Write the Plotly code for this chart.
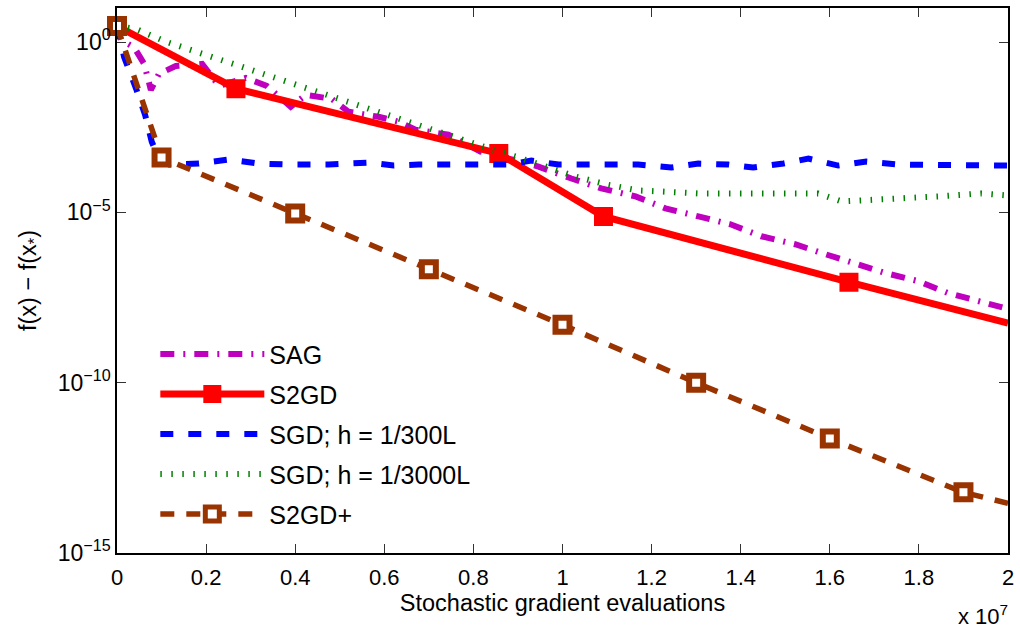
import plotly.graph_objects as go

# ---------------- data ----------------
sag_x = [0, 9e4, 3.8e5, 6.1e5, 7.6e5, 9.4e5, 1.32e6, 1.91e6, 2.29e6, 2.89e6, 3.36e6,
         3.90e6, 4.24e6, 4.82e6, 5.20e6, 5.87e6, 6.32e6, 6.70e6, 7.44e6, 8.16e6,
         8.79e6, 9.46e6, 1.020e7, 1.087e7, 1.164e7, 1.231e7, 1.305e7, 1.377e7,
         1.446e7, 1.522e7, 1.590e7, 1.659e7, 1.726e7, 1.798e7, 1.865e7, 1.933e7, 2.0e7]
sag_y = [2.94, 1.14, 0.714, 0.228, 0.0394, 0.116, 0.199, 0.228, 0.0516, 0.0885, 0.0516,
         0.01256, 0.0282, 0.0215, 0.00897, 0.00641, 0.00458, 0.00267, 0.00191, 6.08e-4,
         3.79e-4, 2.21e-4, 9.86e-5, 5.04e-5, 2.94e-5, 1.31e-5, 7.64e-6, 4.46e-6,
         1.99e-6, 1.16e-6, 5.92e-7, 3.02e-7, 1.64e-7, 9.59e-8, 4.29e-8, 2.50e-8, 1.46e-8]

s2gd_x = [0, 2.67e6, 8.57e6, 1.092e7, 1.643e7, 2.0e7]
s2gd_y = [2.95, 0.0427, 5.37e-4, 7.59e-6, 8.91e-8, 5.62e-9]
s2gd_marker_x = [0, 2.67e6, 8.57e6, 1.092e7, 1.643e7]
s2gd_marker_y = [2.95, 0.0427, 5.37e-4, 7.59e-6, 8.91e-8]

sgd300_x = [0, 1.6e5, 4.3e5, 6.3e5, 7.8e5, 9.4e5, 1.17e6, 1.84e6, 2.51e6, 3.18e6, 3.86e6,
            4.75e6, 5.65e6, 6.21e6, 6.77e6, 7.89e6, 8.79e6, 9.30e6, 9.91e6, 1.081e7,
            1.170e7, 1.244e7, 1.305e7, 1.372e7, 1.428e7, 1.496e7, 1.552e7, 1.619e7,
            1.682e7, 1.753e7, 1.843e7, 1.933e7, 2.0e7]
sgd300_y = [2.94, 0.364, 0.0423, 0.00733, 0.00119, 3.79e-4, 2.54e-4, 2.71e-4, 3.55e-4,
            2.71e-4, 2.54e-4, 2.54e-4, 2.90e-4, 2.37e-4, 2.54e-4, 2.54e-4, 2.54e-4,
            3.31e-4, 2.54e-4, 2.54e-4, 2.54e-4, 2.07e-4, 2.71e-4, 2.54e-4, 2.07e-4,
            2.71e-4, 3.79e-4, 2.37e-4, 3.10e-4, 2.54e-4, 2.54e-4, 2.54e-4, 2.37e-4]

sgd3000_x = [0, 4.3e5, 1.12e6, 1.79e6, 2.51e6, 3.18e6, 3.63e6, 4.30e6, 4.98e6, 5.65e6,
             6.37e6, 7.29e6, 8.23e6, 8.95e6, 9.62e6, 1.029e7, 1.099e7, 1.170e7, 1.220e7,
             1.305e7, 1.439e7, 1.574e7, 1.626e7, 1.686e7, 1.753e7, 1.843e7, 1.939e7, 2.0e7]
sgd3000_y = [2.94, 2.40, 1.0, 0.511, 0.260, 0.133, 0.0774, 0.0394, 0.0201, 0.0103,
             0.00524, 0.00204, 8.51e-4, 4.34e-4, 2.21e-4, 1.13e-4, 6.59e-5, 4.40e-5,
             4.11e-5, 3.60e-5, 3.60e-5, 3.60e-5, 2.10e-5, 2.40e-5, 2.56e-5, 2.94e-5,
             3.60e-5, 3.14e-5]

s2gdp_x = [0, 1.0e6, 4.0e6, 7.0e6, 1.0e7, 1.3e7, 1.6e7, 1.9e7, 2.0e7]
s2gdp_y = [2.95, 4.07e-4, 9.33e-6, 2.14e-7, 5.01e-9, 1.0e-10, 2.29e-12, 6.03e-14, 2.88e-14]
s2gdp_marker_x = [0, 1.0e6, 4.0e6, 7.0e6, 1.0e7, 1.3e7, 1.6e7, 1.9e7]
s2gdp_marker_y = [2.95, 4.07e-4, 9.33e-6, 2.14e-7, 5.01e-9, 1.0e-10, 2.29e-12, 6.03e-14]

series_names = ["SAG", "S2GD", "SGD; h = 1/300L", "SGD; h = 1/3000L", "S2GD+"]

x_tickvals = [0, 2e6, 4e6, 6e6, 8e6, 1e7, 1.2e7, 1.4e7, 1.6e7, 1.8e7, 2e7]
x_ticktext = ["0", "0.2", "0.4", "0.6", "0.8", "1", "1.2", "1.4", "1.6", "1.8", "2"]
y_tickvals = [1e-15, 1e-10, 1e-5, 1]
y_ticktext = ["10<sup>\u221215</sup>", "10<sup>\u221210</sup>", "10<sup>\u22125</sup>", "10<sup>0</sup>"]

# ---------------- styles ----------------
FONT = "Liberation Sans, Arial, Helvetica, sans-serif"
C_SAG = "#BF00BF"
C_S2GD = "#FF0000"
C_SGD1 = "#0000FF"
C_SGD2 = "#008000"
C_S2GDP = "#993300"

sag_line = dict(color=C_SAG, width=6, dash="14px,9px,2px,9px")
s2gd_line = dict(color=C_S2GD, width=7)
sgd1_line = dict(color=C_SGD1, width=6, dash="13px,15px")
sgd2_line = dict(color=C_SGD2, width=6, dash="1.5px,9.5px")
s2gdp_line = dict(color=C_S2GDP, width=5.5, dash="14px,12px")
s2gd_marker = dict(symbol="square", size=17, color=C_S2GD, line=dict(color=C_S2GD, width=2))
s2gdp_marker = dict(symbol="square", size=14, color="white", line=dict(color=C_S2GDP, width=6))

fig = go.Figure()

# SAG
fig.add_trace(go.Scatter(x=sag_x, y=sag_y, mode="lines", line=sag_line, showlegend=False))
# S2GD
fig.add_trace(go.Scatter(x=s2gd_x, y=s2gd_y, mode="lines", line=s2gd_line, showlegend=False))
fig.add_trace(go.Scatter(x=s2gd_marker_x, y=s2gd_marker_y, mode="markers", marker=s2gd_marker,
                         showlegend=False, cliponaxis=False))
# SGD 1/300L
fig.add_trace(go.Scatter(x=sgd300_x, y=sgd300_y, mode="lines", line=sgd1_line, showlegend=False))
# SGD 1/3000L
fig.add_trace(go.Scatter(x=sgd3000_x, y=sgd3000_y, mode="lines", line=sgd2_line, showlegend=False))
# S2GD+
fig.add_trace(go.Scatter(x=s2gdp_x, y=s2gdp_y, mode="lines", line=s2gdp_line, showlegend=False))
fig.add_trace(go.Scatter(x=s2gdp_marker_x, y=s2gdp_marker_y, mode="markers", marker=s2gdp_marker,
                         showlegend=False, cliponaxis=False))

# legend entries
legend_styles = [
    dict(mode="lines", line=sag_line),
    dict(mode="lines+markers", line=s2gd_line, marker=s2gd_marker),
    dict(mode="lines", line=sgd1_line),
    dict(mode="lines", line=sgd2_line),
    dict(mode="lines+markers", line=s2gdp_line, marker=s2gdp_marker),
]
for i, (name, st) in enumerate(zip(series_names, legend_styles)):
    fig.add_trace(go.Scatter(x=[None], y=[None], name=name, legendgroup="g%d" % i, **st))

fig.update_layout(
    width=1020, height=629,
    margin=dict(l=117, r=9, t=6, b=76),
    paper_bgcolor="white", plot_bgcolor="white",
    font=dict(family=FONT, size=22, color="black"),
    showlegend=True,
    legend=dict(x=0.043, y=0.407, xanchor="left", yanchor="top",
                bgcolor="rgba(0,0,0,0)", borderwidth=0,
                font=dict(family=FONT, size=25, color="black"),
                itemwidth=104, tracegroupgap=4.5, traceorder="grouped", itemsizing="trace"),
    annotations=[dict(text="x 10<sup>7</sup>", x=0.972, y=-0.114, xref="paper", yref="paper",
                      xanchor="center", yanchor="middle", showarrow=False,
                      font=dict(family=FONT, size=22, color="black"))],
)
fig.update_xaxes(
    range=[0, 2e7], tickvals=x_tickvals, ticktext=x_ticktext,
    showline=True, linecolor="black", linewidth=1.5, mirror="ticks",
    ticks="inside", ticklen=9, tickwidth=1.2, tickcolor="#333",
    showgrid=False, zeroline=False, ticklabelstandoff=4,
    title=dict(text="Stochastic gradient evaluations", font=dict(size=23.5), standoff=5),
)
fig.update_yaxes(
    type="log", range=[-15, 1], tickvals=y_tickvals, ticktext=y_ticktext,
    showline=True, linecolor="black", linewidth=1.5, mirror="ticks",
    ticks="inside", ticklen=9, tickwidth=1.2, tickcolor="#333",
    showgrid=False, zeroline=False, tickfont=dict(size=23),
    title=dict(text="f(x) \u2212 f(x<sub>*</sub>)", font=dict(size=23.5), standoff=15),
)

fig.write_html("out.html", config={"displayModeBar": False},
               post_script="document.body.style.margin='0';document.body.style.overflow='hidden';")
